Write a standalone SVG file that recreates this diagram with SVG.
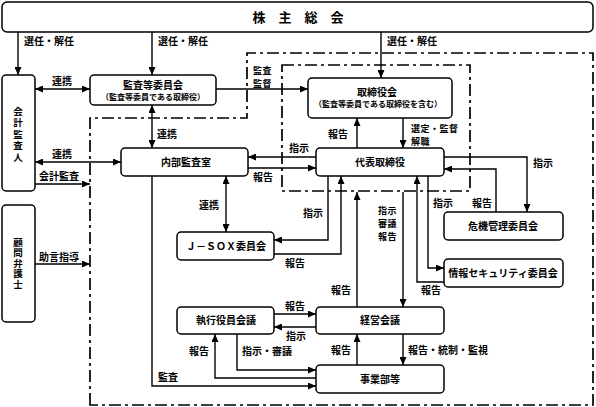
<svg xmlns="http://www.w3.org/2000/svg" width="596" height="407" viewBox="0 0 596 407">
<defs>
<marker id="ah" viewBox="0 0 8 7" refX="8" refY="3.5" markerWidth="8" markerHeight="7" markerUnits="userSpaceOnUse" orient="auto-start-reverse">
<path d="M0,0 L8,3.5 L0,7 z" fill="#000"/>
</marker>
<style>
.box{fill:#fff;stroke:#000;stroke-width:1.5}
.ln{fill:none;stroke:#000;stroke-width:1.4}
.a{marker-end:url(#ah)}
.d{marker-start:url(#ah);marker-end:url(#ah)}
.dash{fill:none;stroke:#000;stroke-width:1.7;stroke-dasharray:12 4 3 4}
text{font-family:"Noto Sans CJK JP","Noto Sans CJK SC",sans-serif;font-size:10px;font-weight:bold;fill:#000}
.c{text-anchor:middle}
.s{font-size:8px}
.t{font-size:13px}
.m{font-size:9px;letter-spacing:0.5px}
.v{writing-mode:vertical-rl;text-anchor:middle;font-size:9.5px}
</style>
</defs>

<g id="regions">
<path class="dash" d="M90,405 V118 H247 V53 H593 V405 Z"/>
<rect class="dash" x="282" y="65" width="188" height="126"/>
</g>

<g id="connectors">
<path class="ln a" d="M18,32 V75"/>
<path class="ln a" d="M152,32 V75"/>
<path class="ln a" d="M381,32 V78"/>
<path class="ln d" d="M35,89 H90"/>
<path class="ln a" d="M216,89 H308"/>
<path class="ln d" d="M152,105 V148"/>
<path class="ln d" d="M35,162 H121"/>
<path class="ln a" d="M35,184 H90"/>
<path class="ln a" d="M35,264 H90"/>
<path class="ln a" d="M316,157 H248"/>
<path class="ln a" d="M248,168 H316"/>
<path class="ln a" d="M357,148 V118"/>
<path class="ln a" d="M403,118 V148"/>
<path class="ln d" d="M226,176 V232"/>
<path class="ln a" d="M328,176 V240 H274"/>
<path class="ln a" d="M274,254 H341 V176"/>
<path class="ln a" d="M357,307 V192"/>
<path class="ln a" d="M403,192 V307"/>
<path class="ln a" d="M444,282 H417 V176"/>
<path class="ln a" d="M428,176 V268 H444"/>
<path class="ln a" d="M444,157 H527 V212"/>
<path class="ln a" d="M496,212 V169 H444"/>
<path class="ln a" d="M357,365 V334"/>
<path class="ln a" d="M403,334 V365"/>
<path class="ln a" d="M274,314 H316"/>
<path class="ln a" d="M316,327 H274"/>
<path class="ln a" d="M237,334 V370 H316"/>
<path class="ln a" d="M316,378 H215 V334"/>
<path class="ln a" d="M152,176 V386 H316"/>
</g>

<g id="labels">
<text x="24" y="45">選任・解任</text>
<text x="158" y="45">選任・解任</text>
<text x="387" y="45">選任・解任</text>
<text x="52" y="85">連携</text>
<text class="m" x="253" y="73.5">監査<tspan x="253" dy="13">監督</tspan></text>
<text x="157" y="138">連携</text>
<text x="328" y="138">報告</text>
<text class="m" x="411" y="131.5">選定・監督<tspan x="411" dy="13">解職</tspan></text>
<text x="52" y="158">連携</text>
<text x="39" y="180">会計監査</text>
<text x="39" y="261">助言指導</text>
<text x="289" y="152">指示</text>
<text x="253" y="181">報告</text>
<text x="199" y="209">連携</text>
<text x="303" y="217">指示</text>
<text x="285" y="267">報告</text>
<text class="m" x="378" y="213.5">指示<tspan x="378" dy="13">審議</tspan><tspan x="378" dy="13">報告</tspan></text>
<text x="433" y="207">指示</text>
<text x="472" y="207">報告</text>
<text x="533" y="167">指示</text>
<text x="421" y="294">報告</text>
<text x="331" y="294">報告</text>
<text x="408" y="354">報告・統制・監視</text>
<text x="331" y="354">報告</text>
<text x="285" y="310">報告</text>
<text x="286" y="340">指示</text>
<text x="242" y="355">指示・審議</text>
<text x="189" y="355">報告</text>
<text x="158" y="381">監査</text>
</g>

<g id="n-shareholders">
<rect class="box" x="2" y="2" width="591" height="30" rx="5"/>
<text class="c t" x="298" y="22">株　主　総　会</text>
</g>

<g id="n-auditor">
<rect class="box" x="2" y="75" width="33" height="116" rx="4"/>
<text class="v" x="18" y="135" letter-spacing="2">会計監査人</text>
</g>

<g id="n-lawyer">
<rect class="box" x="2" y="205" width="33" height="117" rx="4"/>
<text class="v" x="18" y="263.5" letter-spacing="1">顧問弁護士</text>
</g>

<g id="n-audit-committee">
<rect class="box" x="90" y="75" width="126" height="30" rx="4"/>
<text class="c" x="153" y="89">監査等委員会</text>
<text class="c s" x="153" y="100">（監査等委員である取締役）</text>
</g>

<g id="n-board">
<rect class="box" x="308" y="78" width="144" height="40" rx="4"/>
<text class="c" x="377" y="96">取締役会</text>
<text class="c s" x="378" y="107">（監査等委員である取締役を含む）</text>
</g>

<g id="n-internal-audit">
<rect class="box" x="121" y="148" width="127" height="28" rx="4"/>
<text class="c" x="186" y="165.5">内部監査室</text>
</g>

<g id="n-ceo">
<rect class="box" x="316" y="148" width="128" height="28" rx="4"/>
<text class="c" x="380" y="165.5">代表取締役</text>
</g>

<g id="n-jsox">
<rect class="box" x="177" y="232" width="97" height="28" rx="4"/>
<text class="c" x="226" y="249.5">Ｊ－ＳＯＸ委員会</text>
</g>

<g id="n-risk">
<rect class="box" x="444" y="212" width="119" height="28" rx="4"/>
<text class="c" x="503" y="229.5">危機管理委員会</text>
</g>

<g id="n-infosec">
<rect class="box" x="444" y="259" width="119" height="28" rx="4"/>
<text class="c" x="503" y="276.5">情報セキュリティ委員会</text>
</g>

<g id="n-exec">
<rect class="box" x="177" y="307" width="97" height="27" rx="4"/>
<text class="c" x="226" y="324">執行役員会議</text>
</g>

<g id="n-mgmt">
<rect class="box" x="316" y="307" width="128" height="27" rx="4"/>
<text class="c" x="380" y="324">経営会議</text>
</g>

<g id="n-business">
<rect class="box" x="316" y="365" width="128" height="28" rx="4"/>
<text class="c" x="380" y="382.5">事業部等</text>
</g>
</svg>
